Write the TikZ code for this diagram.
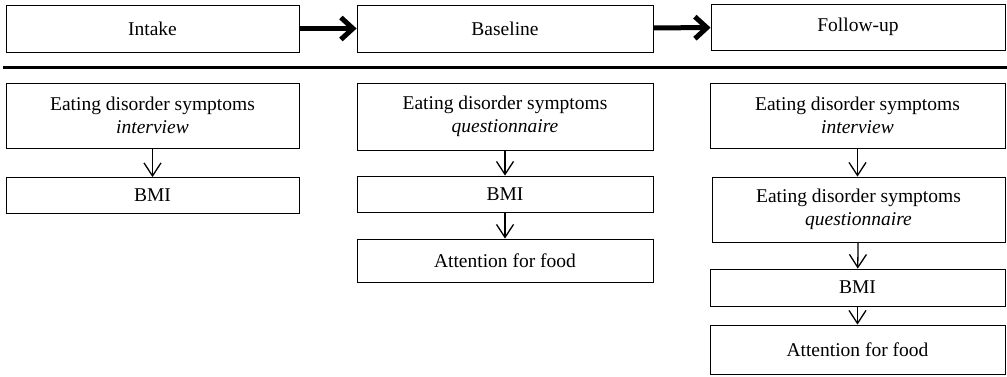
\documentclass[tikz,border=0pt]{standalone}
\usepackage{fontspec}
\setmainfont{Liberation Serif}
\usetikzlibrary{arrows.meta}
\begin{document}
\begin{tikzpicture}[x=1pt,y=-1pt,
  box/.style={draw,line width=0.8pt,inner sep=0pt,align=center,font=\fontsize{19.5}{22.5}\selectfont},
  flowarrow/.style={line width=5pt,-{Straight Barb[length=12pt,width=22pt,line width=5pt]}},
  downarrow/.style={line width=1.3pt,-{Straight Barb[length=13pt,width=17pt,line width=1.3pt]}}]
\useasboundingbox (0,0) rectangle (1007,377);
\node[box,minimum width=293pt,minimum height=47pt] (intake) at (152.5,28.5) {Intake};
\node[box,minimum width=296pt,minimum height=47pt] (baseline) at (505,28.5) {Baseline};
\node[box,minimum width=294pt,minimum height=46pt] (follow) at (858,27) {Follow-up};
\draw[flowarrow] (intake) -- (baseline);
\draw[flowarrow] (baseline) -- (follow);
\coordinate (sepL) at (3,68);
\coordinate (sepR) at (1007,68);
\draw[line width=3pt] (sepL) -- (sepR);
% column 1
\node[box,minimum width=293pt,minimum height=65pt] (c1eat) at (152.5,115.5) {Eating disorder symptoms\\\textit{interview}};
\node[box,minimum width=293pt,minimum height=36pt] (c1bmi) at (152.5,195.5) {BMI};
\draw[downarrow] (c1eat) -- (c1bmi);
% column 2
\node[box,minimum width=296pt,minimum height=67pt] (c2eat) at (505,116.5) {Eating disorder symptoms\\\textit{questionnaire}};
\node[box,minimum width=296pt,minimum height=36pt] (c2bmi) at (505,194) {BMI};
\node[box,minimum width=296pt,minimum height=43pt] (c2att) at (505,260.5) {Attention for food};
\draw[downarrow] (c2eat) -- (c2bmi);
\draw[downarrow] (c2bmi) -- (c2att);
% column 3
\node[box,minimum width=295pt,minimum height=65pt] (c3eat1) at (857.5,115.5) {Eating disorder symptoms\\\textit{interview}};
\node[box,minimum width=293pt,minimum height=65pt] (c3eat2) at (858.5,209.5) {Eating disorder symptoms\\\textit{questionnaire}};
\node[box,minimum width=295pt,minimum height=37pt] (c3bmi) at (857.5,287.5) {BMI};
\node[box,minimum width=295pt,minimum height=49pt] (c3att) at (857.5,349.5) {Attention for food};
\draw[downarrow] (c3eat1.south -| c3eat1) -- (c3eat2.north -| c3eat1);
\draw[downarrow] (c3eat2) -- (c3bmi);
\draw[downarrow] (c3bmi) -- (c3att);
\end{tikzpicture}
\end{document}
